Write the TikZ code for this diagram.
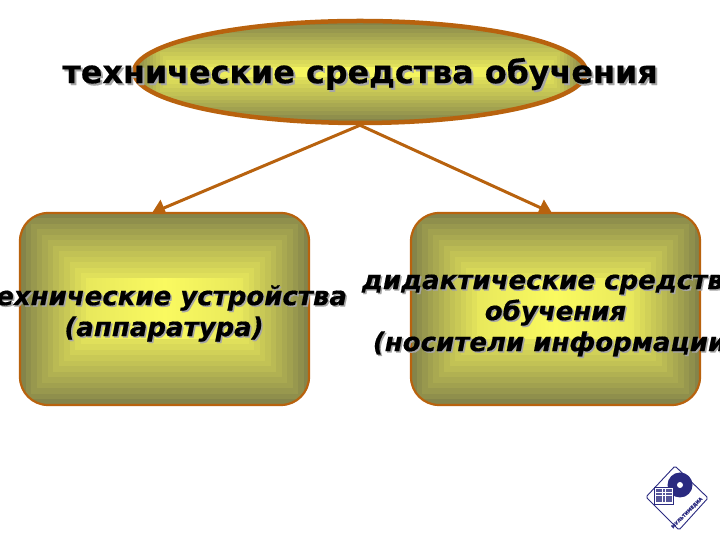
\documentclass[tikz,border=0pt]{standalone}
\usepackage{fontspec}
\setmainfont[BoldFeatures={FakeBold=0.5},BoldItalicFeatures={FakeBold=0.5}]{DejaVu Sans}
\usetikzlibrary{shapes.geometric,arrows.meta,calc}
\definecolor{rim}{HTML}{B8620E}
\definecolor{olive}{HTML}{84844A}
\definecolor{lemon}{HTML}{E8E85C}
\definecolor{glow}{HTML}{FAFA60}
\definecolor{logoblue}{HTML}{2A2A80}
\tikzset{
  x=1pt, y=1pt,
  bands/.style 2 args={path picture={
    \foreach \i in {0,...,12} {
      \pgfmathsetmacro{\mixval}{100*(\i/12)^0.9}
      \fill[sharp corners, lemon!\mixval!olive]
        ($(path picture bounding box.south west)+(\i*#1,\i*#2)$)
        rectangle ($(path picture bounding box.north east)-(\i*#1,\i*#2)$);
    }
    \shade[sharp corners, left color=lemon, right color=lemon, middle color=glow]
      ($(path picture bounding box.south west)+(12*#1,12*#2)$)
      rectangle ($(path picture bounding box.north east)-(12*#1,12*#2)$);
    }},
  topoval/.style={ellipse, draw=rim, line width=4.5pt, bands={3.2}{3.9},
    minimum width=452pt, minimum height=102pt, inner sep=0pt},
  roundbox/.style={rectangle, rounded corners=28pt, draw=rim, line width=2.2pt,
    bands={5.5}{5.5}, minimum width=289pt, minimum height=192pt, inner sep=0pt},
  link/.style={draw=rim, line width=3pt, -{Triangle[length=13pt,width=17pt]}},
  caption/.style={font=\bfseries\itshape\fontsize{26}{31}\selectfont, align=center, inner sep=0pt},
  headline/.style={font=\bfseries\fontsize{31.8}{38}\selectfont, inner sep=0pt},
  shade/.style={text=black!35}
}
\begin{document}
\begin{tikzpicture}
  \useasboundingbox (0,0) rectangle (720,540);
  \clip (0,0) rectangle (720,540);
  % Arrow ends
  \coordinate (techend) at (152,327);
  \coordinate (didactend) at (552,327);
  % Arrows
  \node[topoval] (top) at (360,468) {};
  \path[link] (top.south) -- (techend);
  \path[link] (top.south) -- (didactend);
  % Boxes
  \node[roundbox] (tech) at (164.5,231) {};
  \node[roundbox] (didact) at (555.5,231) {};
  % Title
  \node[headline, shade] (titleshade) at (362,464) {технические средства обучения};
  \node[headline] (title) at (360,466) {технические средства обучения};
  % Box texts
  \node[caption, shade] (techshade) at (165.5,225) {технические устройства\\(аппаратура)};
  \node[caption] (techtext) at (164,226.5) {технические устройства\\(аппаратура)};
  \node[caption, shade] (didactshade) at (557,223) {дидактические средства\hspace*{8pt}\\обучения\\(носители информации)};
  \node[caption] (didacttext) at (555.5,224.5) {дидактические средства\hspace*{8pt}\\обучения\\(носители информации)};
  % Logo
  \fill[white, draw=logoblue, line width=0.9pt, rounded corners=1.5pt]
    (675,74) -- (708,42) -- (679,10) -- (646,43) -- cycle;
  \fill[logoblue] (680,55) circle (12.5pt);
  \fill[white] (680,55) circle (3pt);
  \draw[logoblue, fill=white, line width=0.8pt] (654,53) -- (673,53) -- (673,36) -- (654,36) -- cycle;
  \foreach \row in {0,...,3} {
    \foreach \col in {0,...,4} {
      \fill[logoblue!80] (656+\col*3.3,38+\row*3.4) rectangle ++(2.6,2.6);
    }
  }
  \node[font=\bfseries\fontsize{4.6}{5}\selectfont, text=logoblue, rotate=45, inner sep=0pt] (logotext) at (687,27) {МУЛЬТИМЕДИА};
\end{tikzpicture}
\end{document}
